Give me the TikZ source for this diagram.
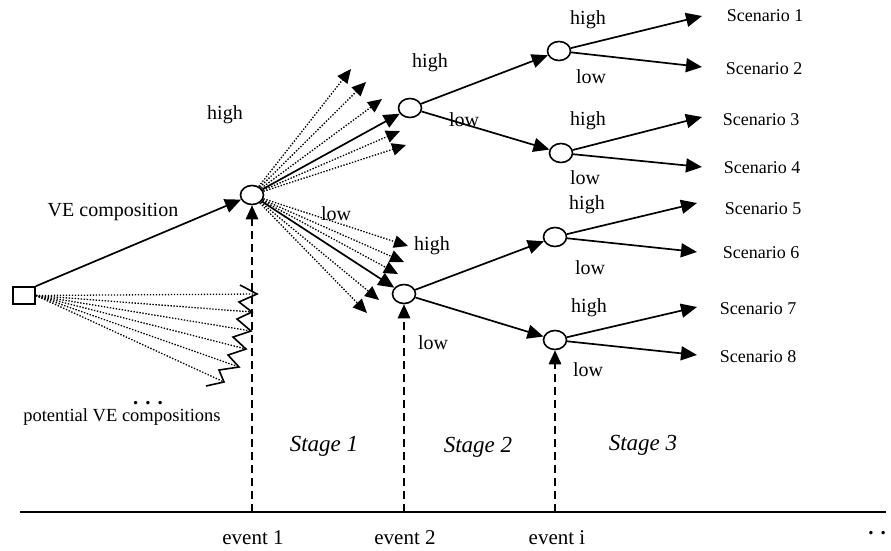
\documentclass[tikz,border=0pt]{standalone}
\usepackage{fontspec}
\setmainfont{Liberation Serif}
\usetikzlibrary{arrows.meta,shapes.geometric}
\begin{document}
\begin{tikzpicture}[x=1pt,y=-1pt,
  chance/.style={draw,ellipse,line width=1.6pt,minimum width=23pt,minimum height=19pt,inner sep=0pt,fill=white},
  solidarr/.style={line width=1.7pt,-{Triangle[length=16pt,width=14pt]}},
  dotarr/.style={line width=1.3pt,dash pattern=on 1.4pt off 1.6pt,-{Triangle[length=14pt,width=12.5pt]}},
  dotline/.style={line width=1.3pt,dash pattern=on 1.4pt off 1.6pt},
  eventarr/.style={line width=1.6pt,dash pattern=on 8pt off 5pt,-{Triangle[length=14pt,width=12.5pt]}},
  lbl/.style={font=\fontsize{20}{22}\selectfont,inner sep=0pt},
  scen/.style={font=\fontsize{18}{20}\selectfont,inner sep=0pt},
  evt/.style={font=\fontsize{21}{23}\selectfont,inner sep=0pt},
  stg/.style={font=\fontsize{23}{25}\selectfont\itshape,inner sep=0pt}]
\useasboundingbox (0,0) rectangle (891,550);

% source box
\node[draw,line width=1.6pt,minimum width=22pt,minimum height=17pt,inner sep=0pt] (src) at (24,295.5) {};

% chance nodes
\node[chance] (c1) at (252,195) {};
\node[chance] (c2) at (410,108) {};
\node[chance] (c3) at (404,294) {};
\node[chance] (d1) at (559,51) {};
\node[chance] (d2) at (561,153) {};
\node[chance] (d3) at (555,237) {};
\node[chance] (d4) at (555,340) {};

% scenario arrow ends
\coordinate (t1) at (702,16);
\coordinate (t2) at (702,67);
\coordinate (t3) at (702,117);
\coordinate (t4) at (702,167);
\coordinate (t5) at (697,203);
\coordinate (t6) at (697,252);
\coordinate (t7) at (697,307);
\coordinate (t8) at (697,355);

% scenario labels
\node[scen] (s1) at (765,16) {Scenario 1};
\node[scen] (s2) at (764,69) {Scenario 2};
\node[scen] (s3) at (761,120) {Scenario 3};
\node[scen] (s4) at (762,168) {Scenario 4};
\node[scen] (s5) at (763,209) {Scenario 5};
\node[scen] (s6) at (761,253) {Scenario 6};
\node[scen] (s7) at (758,309) {Scenario 7};
\node[scen] (s8) at (758,357) {Scenario 8};

% main tree
\draw[solidarr] (src.north east) -- (c1);
\draw[solidarr] (c1) -- (c2);
\draw[solidarr] (c1) -- (c3);
\draw[solidarr] (c2) -- (d1);
\draw[solidarr] (c2) -- (d2);
\draw[solidarr] (c3) -- (d3);
\draw[solidarr] (c3) -- (d4);
\draw[solidarr] (d1) -- (t1);
\draw[solidarr] (d1) -- (t2);
\draw[solidarr] (d2) -- (t3);
\draw[solidarr] (d2) -- (t4);
\draw[solidarr] (d3) -- (t5);
\draw[solidarr] (d3) -- (t6);
\draw[solidarr] (d4) -- (t7);
\draw[solidarr] (d4) -- (t8);

% fans of potential branches
\coordinate (u1) at (351,69);
\coordinate (u2) at (366,82);
\coordinate (u3) at (382,99);
\coordinate (u4) at (400,131);
\coordinate (u5) at (406,145);
\coordinate (l1) at (408,246);
\coordinate (l2) at (404,262);
\coordinate (l3) at (398,274);
\coordinate (l4) at (379,300);
\coordinate (l5) at (367,313);
\foreach \p in {u1,u2,u3,u4,u5,l1,l2,l3,l4,l5}
  \draw[dotarr] (c1) -- (\p);

% potential VE compositions
\coordinate (z1) at (257,294);
\coordinate (z2) at (252,312);
\coordinate (z3) at (251,331);
\coordinate (z4) at (246,349);
\coordinate (z5) at (239,367);
\coordinate (z6) at (224,382);
\foreach \p in {z1,z2,z3,z4,z5,z6}
  \draw[dotline] (src.east) -- (\p);
\draw[line width=1.6pt,line join=miter] (240,285) -- (z1) -- (239,302) -- (z2) -- (237,319) -- (z3)
  -- (233,337) -- (z4) -- (228,355) -- (z5) -- (219,370) -- (z6) -- (206,386);

% time axis and events
\coordinate (axL) at (20,512);
\coordinate (axR) at (886,512);
\draw[line width=1.7pt] (axL) -- (axR);
\coordinate (e1) at (252,512);
\coordinate (e2) at (404,512);
\coordinate (e3) at (555,512);
\draw[eventarr] (e1) -- (c1);
\draw[eventarr] (e2) -- (c3);
\draw[eventarr] (e3) -- (d4);

% labels
\node[lbl] at (113,212) {VE composition};
\node[lbl] at (225,115) {high};
\node[lbl] at (336,214) {low};
\node[lbl] at (430,63) {high};
\node[lbl] at (464,120) {low};
\node[lbl] at (432,246) {high};
\node[lbl] at (433,343) {low};
\node[lbl] at (588,20) {high};
\node[lbl] at (591,77) {low};
\node[lbl] at (588,121) {high};
\node[lbl] at (585,178) {low};
\node[lbl] at (587,205) {high};
\node[lbl] at (590,268) {low};
\node[lbl] at (589,308) {high};
\node[lbl] at (588,370) {low};

\node[font=\fontsize{21}{23}\selectfont\bfseries,inner sep=0pt] at (148,403) {. . .};
\node[font=\fontsize{18.5}{20}\selectfont,inner sep=0pt] at (122,417) {potential VE compositions};

\node[stg] at (324,446) {Stage 1};
\node[stg] at (478,447) {Stage 2};
\node[stg] at (643,445) {Stage 3};

\node[evt] at (253,538) {event 1};
\node[evt] at (405,538) {event 2};
\node[evt] at (557,538) {event i};
\node[font=\fontsize{21}{23}\selectfont\bfseries,inner sep=0pt] at (877,533) {. .};
\end{tikzpicture}
\end{document}
